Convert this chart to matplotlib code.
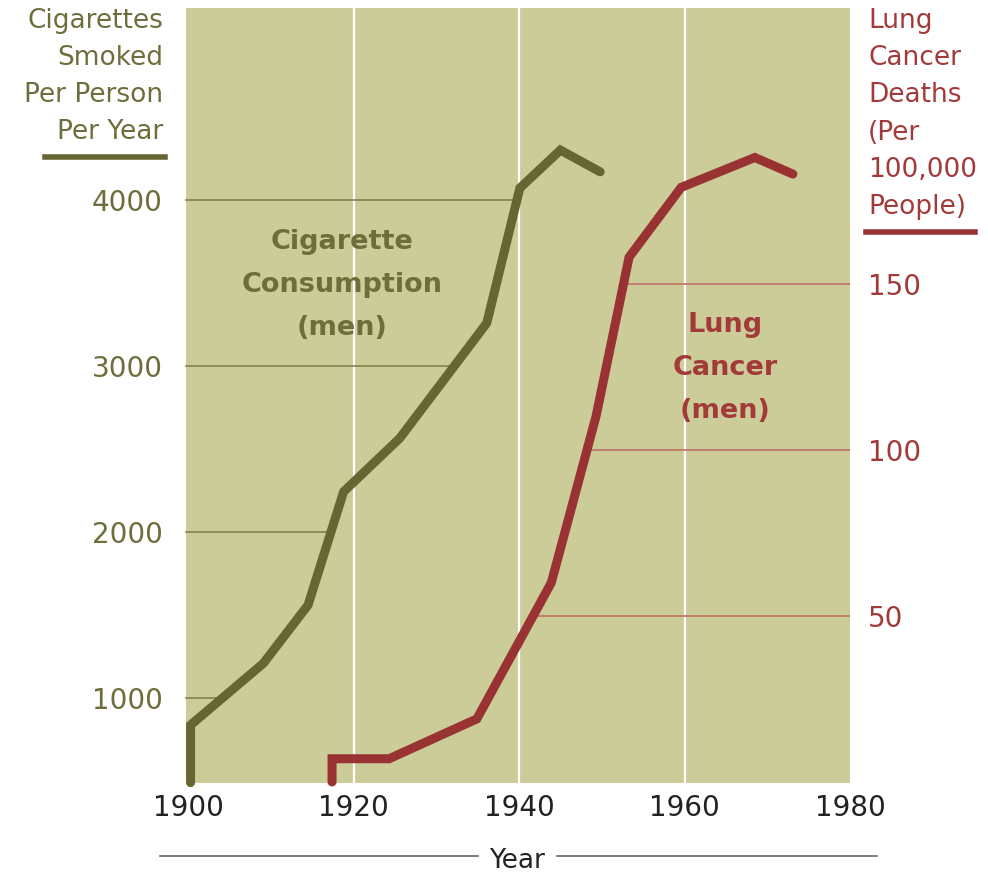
import numpy as np
import matplotlib
matplotlib.use("Agg")
from matplotlib import pyplot as plt
from matplotlib.lines import Line2D

# cigarettes smoked per person per year (men)
cig_years = [1900.3, 1900.3, 1909.1, 1914.5, 1918.8, 1925.6, 1936.1, 1940.1, 1945.0, 1949.8]
cig_values = [490, 837, 1209, 1560, 2243, 2566, 3259, 4072, 4301, 4170]

# lung cancer deaths per 100,000 people (men)
lung_years = [1917.4, 1917.4, 1924.3, 1934.9, 1943.9, 1949.3, 1953.3, 1959.6, 1968.5, 1973.1]
lung_values = [0, 7, 7, 19, 60, 110, 158, 179, 188, 183]

x_ticks = [1900, 1920, 1940, 1960, 1980]
cig_ticks = [1000, 2000, 3000, 4000]
lung_ticks = [50, 100, 150]

OLIVE = '#666633'
OLIVE_TXT = '#6e6e3c'
RED = '#993333'
RED_TXT = '#a33a3a'
BG = '#cccc99'

W, H = 988, 875
fig = plt.figure(figsize=(W / 100, H / 100), dpi=100)
ax = fig.add_axes([186 / W, 1 - 783 / H, (850 - 186) / W, (783 - 8) / H])
ax.set_facecolor(BG)
ax.set_xlim(1899.75, 1980)
ax.set_ylim(488, 5157)
ax2 = ax.twinx()
ax2.set_ylim(-0.3, 233)

for a in (ax, ax2):
    for s in a.spines.values():
        s.set_visible(False)
    a.tick_params(length=0)

# white vertical grid
for yr in x_ticks[1:-1]:
    ax.axvline(yr, color='white', lw=1.6, zorder=1)

# olive horizontals: from left edge to the cigarette curve
rise = slice(1, 8)
for v in cig_ticks:
    x_end = np.interp(v, cig_values[rise], cig_years[rise])
    ax.plot([1899.75, x_end], [v, v], color='#7c7c48', lw=1.1, zorder=2, clip_on=False)

# red horizontals: from the lung curve to right edge
for v in lung_ticks:
    x_start = np.interp(v, lung_values[2:8], lung_years[2:8])
    ax2.plot([x_start, 1980], [v, v], color='#c07a6a', lw=1.3, zorder=2)

ax.plot(cig_years, cig_values, color=OLIVE, lw=6.5, solid_capstyle='round',
        solid_joinstyle='miter', zorder=5, clip_on=False)
ax2.plot(lung_years, lung_values, color=RED, lw=6.5, solid_capstyle='round',
         solid_joinstyle='miter', zorder=5, clip_on=False)

ax.set_xticks(x_ticks)
ax.set_xticklabels([str(t) for t in x_ticks], fontsize=20, color='#222222')
ax.tick_params(axis='x', pad=8)
ax.set_yticks(cig_ticks)
ax.set_yticklabels([str(t) for t in cig_ticks], fontsize=20, color=OLIVE_TXT)
ax.tick_params(axis='y', pad=17)
ax2.set_yticks(lung_ticks)
ax2.set_yticklabels([str(t) for t in lung_ticks], fontsize=20, color=RED_TXT)
ax2.tick_params(axis='y', pad=13)

# in-plot labels
ax.text(1918.6, 3490, 'Cigarette\nConsumption\n(men)', fontsize=19.5, fontweight='bold',
        color=OLIVE_TXT, ha='center', va='center', linespacing=1.85, zorder=6)
ax2.text(1964.9, 124.5, 'Lung\nCancer\n(men)', fontsize=19.5, fontweight='bold',
         color=RED_TXT, ha='center', va='center', linespacing=1.85, zorder=6)


def fx(px):
    return px / W


def fy(py):
    return 1 - py / H


# axis titles
left_title = ['Cigarettes', 'Smoked', 'Per Person', 'Per Year']
for i, line in enumerate(left_title):
    fig.text(fx(163), fy(21 + 37 * i), line, fontsize=19, color=OLIVE_TXT,
             ha='right', va='center')
fig.add_artist(Line2D([fx(45), fx(165)], [fy(157), fy(157)], color=OLIVE, lw=4))

right_title = ['Lung', 'Cancer', 'Deaths', '(Per', '100,000', 'People)']
for i, line in enumerate(right_title):
    fig.text(fx(868), fy(21 + 37.2 * i), line, fontsize=19, color=RED_TXT,
             ha='left', va='center')
fig.add_artist(Line2D([fx(866), fx(975)], [fy(232), fy(232)], color=RED, lw=4))

fig.text(fx(517), fy(861), 'Year', fontsize=19, color='#222222', ha='center', va='center')
fig.add_artist(Line2D([fx(160), fx(478)], [fy(856), fy(856)], color='#666666', lw=1.2))
fig.add_artist(Line2D([fx(557), fx(877)], [fy(856), fy(856)], color='#666666', lw=1.2))

fig.savefig('out.png', dpi=100)
